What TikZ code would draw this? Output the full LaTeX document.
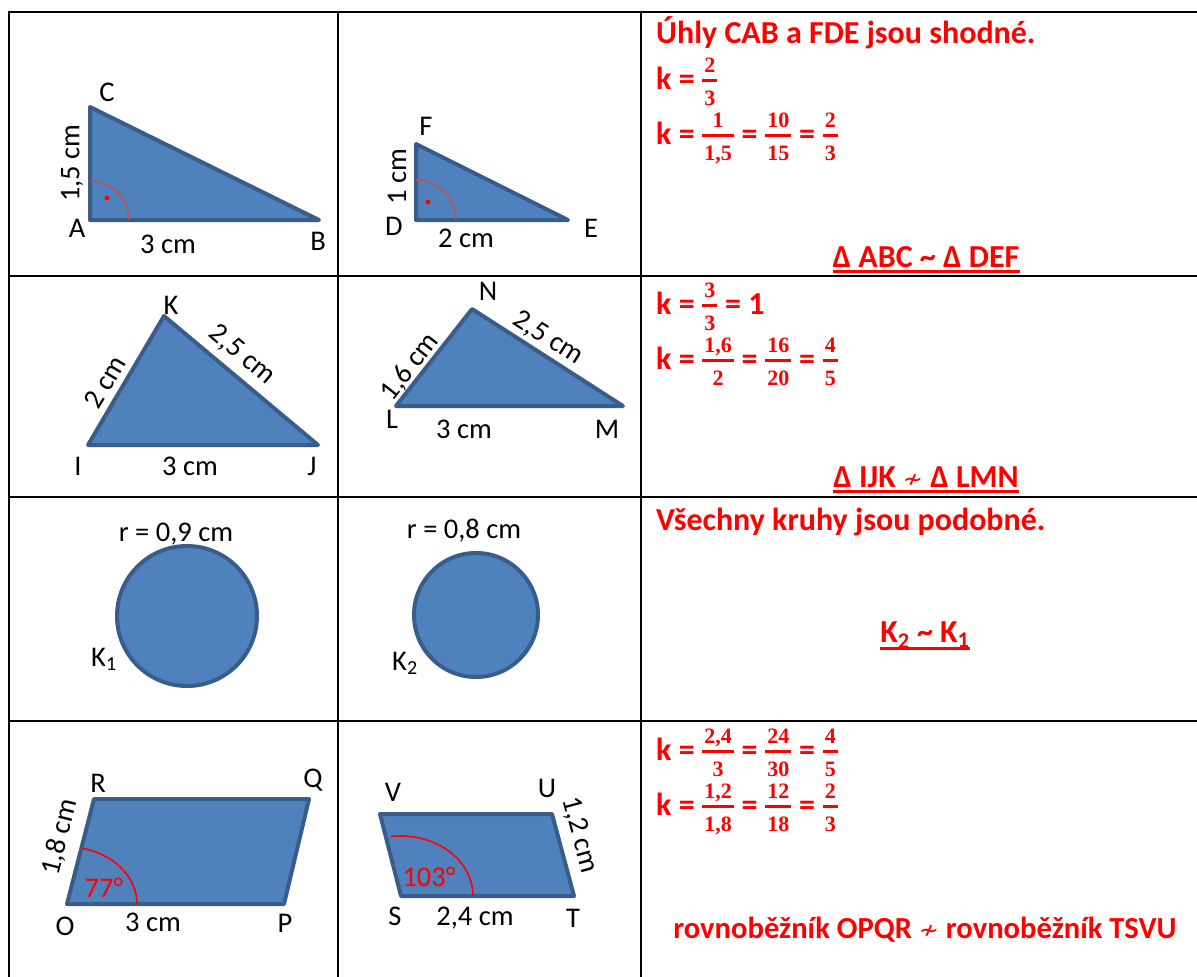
\documentclass[tikz,border=0pt]{standalone}
\usepackage{fontspec}
\setmainfont{Carlito}
\newfontfamily\fracfont{Liberation Serif}
\newfontfamily\dvfont{DejaVu Sans}
\usetikzlibrary{calc}
\definecolor{sfill}{HTML}{4F81BD}
\definecolor{sedge}{HTML}{385D8A}
\definecolor{arcb}{HTML}{C0504D}
\newcommand{\lf}{\fontsize{28.5}{31}\selectfont}
\newcommand{\rf}{\fontsize{32}{36}\selectfont\bfseries\color{red}}
\newcommand{\rfs}{\fontsize{30.6}{34}\selectfont\bfseries\color{red}}
\newcommand{\mynsim}{{\fontsize{24}{26}\dvfont\mdseries\char"2241}}
\newcommand{\fr}[2]{{%
 \fontsize{22}{24}\fracfont\bfseries
 \setbox0=\hbox{#1}\setbox2=\hbox{#2}%
 \dimen0=\wd0 \ifdim\wd2>\dimen0 \dimen0=\wd2\fi
 \advance\dimen0 by 4pt
 \kern0.5pt
 \rlap{\raisebox{7.5pt}{\rule{\dimen0}{3pt}}}%
 \rlap{\hbox to\dimen0{\hss\raisebox{17pt}{\box0}\hss}}%
 \hbox to\dimen0{\hss\raisebox{-16pt}{\box2}\hss}%
 \kern0.5pt}}
\begin{document}
\begin{tikzpicture}[x=1pt,y=-1pt,
  fig/.style={draw=sedge,fill=sfill,line width=4pt,line join=round},
  grid/.style={line width=2pt,black},
  lbl/.style={inner sep=0pt,font=\lf},
  rt/.style={inner sep=0pt,font=\rf,anchor=base west},
  ctr/.style={inner sep=0pt,font=\rf,anchor=base},
  rarc/.style={draw=arcb,line width=1.5pt},
  aarc/.style={draw=red,line width=1.6pt},
  uline/.style={draw=red,line width=3pt}]
\useasboundingbox (0,0) rectangle (1197,977);
\fill[white] (0,0) rectangle (1197,977);
% grid
\draw[grid] (8,12) -- (1197,12);
\draw[grid] (8,276) -- (1197,276);
\draw[grid] (8,497) -- (1197,497);
\draw[grid] (8,721) -- (1197,721);
\draw[grid] (9,11) -- (9,977);
\draw[grid] (338,11) -- (338,977);
\draw[grid] (641,11) -- (641,977);
% row 1: ABC
\coordinate (A) at (90,220);
\coordinate (B) at (319,220);
\coordinate (C) at (90,107);
\filldraw[fig] (A) -- (B) -- (C) -- cycle;
\draw[rarc] ($(A)+(39,0)$) arc[start angle=0,end angle=-90,radius=39];
\fill[red] (107,198) circle[radius=2.5];
\node[lbl] (lC) at (107,92) {C};
\node[lbl] (lA) at (77,228) {A};
\node[lbl] (lB) at (318,241) {B};
\node[lbl] (lAB) at (168,244) {3 cm};
\node[lbl,rotate=90] (lAC) at (72,163) {1,5 cm};
% DEF
\coordinate (D) at (416,220);
\coordinate (E) at (568,220);
\coordinate (F) at (416,144);
\filldraw[fig] (D) -- (E) -- (F) -- cycle;
\draw[rarc] ($(D)+(40,0)$) arc[start angle=0,end angle=-90,radius=40];
\fill[red] (428,202) circle[radius=2.5];
\node[lbl] (lF) at (426,126) {F};
\node[lbl] (lD) at (394,226) {D};
\node[lbl] (lE) at (591,228) {E};
\node[lbl] (lDE) at (466,238) {2 cm};
\node[lbl,rotate=90] (lDF) at (397,177) {1 cm};
% row 2: IJK
\coordinate (I) at (88,445);
\coordinate (J) at (318,445);
\coordinate (K) at (164,316);
\filldraw[fig] (I) -- (J) -- (K) -- cycle;
\node[lbl] (lK) at (171,305) {K};
\node[lbl] (lI) at (78,466) {I};
\node[lbl] (lJ) at (312,466) {J};
\node[lbl] (lIJ) at (190,466) {3 cm};
\node[lbl,rotate=59.5] (lIK) at (105,382) {2 cm};
\node[lbl,rotate=-40.3] (lKJ) at (242,355) {2,5 cm};
% LMN
\coordinate (L) at (396,406);
\coordinate (M) at (623,406);
\coordinate (N) at (472,309);
\filldraw[fig] (L) -- (M) -- (N) -- cycle;
\node[lbl] (lN) at (488,291) {N};
\node[lbl] (lL) at (392,419) {L};
\node[lbl] (lM) at (607,429) {M};
\node[lbl] (lLM) at (464,429) {3 cm};
\node[lbl,rotate=52] (lLN) at (410,367) {1,6 cm};
\node[lbl,rotate=-32.7] (lNM) at (548,338) {2,5 cm};
% row 3: circles
\coordinate (K1) at (187,616);
\coordinate (K2) at (476,615);
\filldraw[fig] (K1) circle[radius=70];
\filldraw[fig] (K2) circle[radius=62];
\node[lbl,anchor=base] (r1) at (176,541) {r = 0,9 cm};
\node[lbl,anchor=base] (r2) at (464,538) {r = 0,8 cm};
\node[lbl,anchor=base west] (k1) at (91,666) {K\textsubscript{1}};
\node[lbl,anchor=base west] (k2) at (392,670) {K\textsubscript{2}};
% row 4: OPQR
\coordinate (O) at (67,904);
\coordinate (P) at (284,904);
\coordinate (Q) at (309,799);
\coordinate (R) at (94,799);
\filldraw[fig] (O) -- (P) -- (Q) -- (R) -- cycle;
\draw[aarc] ($(O)+(70,0)$) arc[start angle=0,end angle=-78,x radius=70,y radius=57];
\node[lbl,text=red] (a77) at (104,888) {77°};
\node[lbl] (lR) at (98,783) {R};
\node[lbl] (lQ) at (313,780) {Q};
\node[lbl] (lO) at (65,926) {O};
\node[lbl] (lP) at (285,923) {P};
\node[lbl] (lOP) at (153,922) {3 cm};
\node[lbl,rotate=76] (lOR) at (60,837) {1,8 cm};
% STUV
\coordinate (S) at (401,896);
\coordinate (T) at (574,896);
\coordinate (U) at (552,814);
\coordinate (V) at (380,814);
\filldraw[fig] (S) -- (T) -- (U) -- (V) -- cycle;
\draw[aarc] ($(S)+(72,0)$) arc[start angle=0,end angle=-98,x radius=72,y radius=60];
\node[lbl,text=red] (a103) at (429,877) {103°};
\node[lbl] (lV) at (393,792) {V};
\node[lbl] (lU) at (547,788) {U};
\node[lbl] (lS) at (395,916) {S};
\node[lbl] (lT) at (573,918) {T};
\node[lbl] (lST) at (475,918) {2,4 cm};
\node[lbl,rotate=-75] (lUT) at (580,835) {1,2 cm};
% right column
\node[rt] (t1) at (656,43) {Úhly CAB a FDE jsou shodné.};
\node[rt] (t2) at (656,89) {k = \fr{2}{3}};
\node[rt] (t3) at (656,144) {k = \fr{1}{1,5} = \fr{10}{15} = \fr{2}{3}};
\node[ctr] (t4) at (926,267) {Δ ABC \textasciitilde{} Δ DEF};
\draw[uline] ([yshift=-4.5pt]t4.base west) -- ([yshift=-4.5pt]t4.base east);
\node[rt] (t5) at (656,314) {k = \fr{3}{3} = 1};
\node[rt] (t6) at (656,369) {k = \fr{1,6}{2} = \fr{16}{20} = \fr{4}{5}};
\node[ctr] (t7) at (926,487) {Δ IJK \mynsim{} Δ LMN};
\draw[uline] ([yshift=-4.5pt]t7.base west) -- ([yshift=-4.5pt]t7.base east);
\node[rt] (t8) at (656,530) {Všechny kruhy jsou podobné.};
\node[ctr] (t9) at (925,642) {K\textsubscript{2} \textasciitilde{} K\textsubscript{1}};
\draw[uline] ([yshift=-6pt]t9.base west) -- ([yshift=-6pt]t9.base east);
\node[rt] (t10) at (656,760) {k = \fr{2,4}{3} = \fr{24}{30} = \fr{4}{5}};
\node[rt] (t11) at (656,815) {k = \fr{1,2}{1,8} = \fr{12}{18} = \fr{2}{3}};
\node[ctr,font=\rfs] (t12) at (925,938) {rovnoběžník OPQR \mynsim{} rovnoběžník TSVU};
\end{tikzpicture}
\end{document}
